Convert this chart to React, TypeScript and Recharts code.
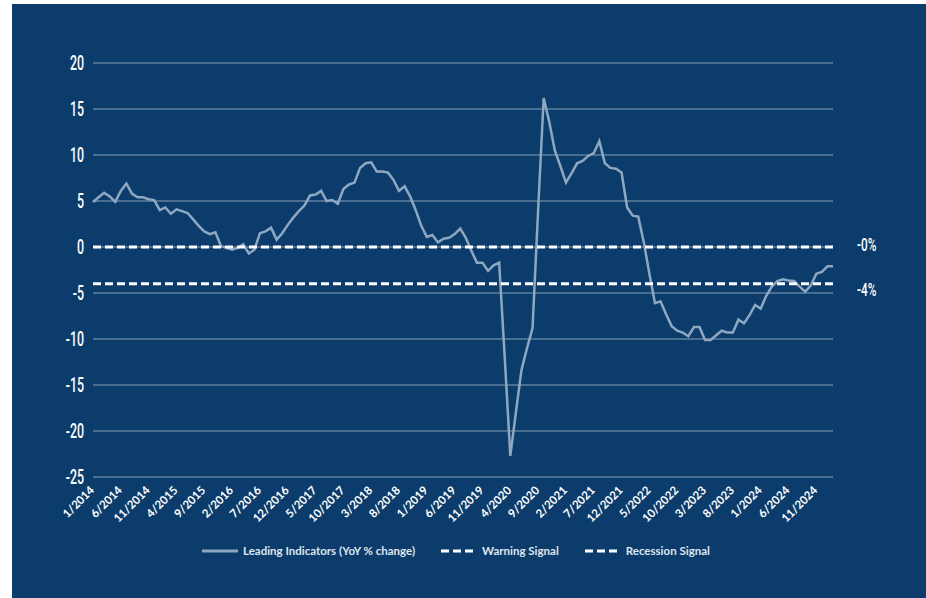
import React from "react";
import {
  LineChart,
  Line,
  XAxis,
  YAxis,
  CartesianGrid,
  ReferenceLine,
  Legend,
} from "recharts";

// monthly, 1/2014 .. 2/2025
const START_YEAR = 2014;
const leadingIndicators = [
  4.9, 5.4, 5.9, 5.5, 4.9, 6.1, 6.9, 5.8, 5.4, 5.4,
  5.2, 5.1, 4.0, 4.3, 3.6, 4.1, 3.9, 3.7, 3.0, 2.3,
  1.7, 1.4, 1.6, 0.1, -0.1, -0.3, -0.1, 0.3, -0.7, -0.3,
  1.5, 1.7, 2.1, 0.8, 1.5, 2.4, 3.2, 3.9, 4.5, 5.6,
  5.7, 6.1, 5.0, 5.1, 4.7, 6.3, 6.8, 7.0, 8.6, 9.1,
  9.2, 8.2, 8.2, 8.1, 7.3, 6.1, 6.6, 5.5, 4.0, 2.3,
  1.1, 1.3, 0.5, 0.9, 1.0, 1.4, 2.0, 1.0, -0.4, -1.7,
  -1.7, -2.6, -2.0, -1.7, -12.0, -22.7, -18.0, -13.4, -11.0, -8.8,
  4.0, 16.2, 13.6, 10.5, 8.8, 7.0, 8.0, 9.1, 9.35, 9.9,
  10.2, 11.5, 9.1, 8.6, 8.5, 8.1, 4.3, 3.4, 3.3, 0.5,
  -2.9, -6.1, -5.9, -7.3, -8.6, -9.1, -9.3, -9.7, -8.7, -8.7,
  -10.1, -10.1, -9.6, -9.1, -9.3, -9.3, -7.9, -8.3, -7.4, -6.3,
  -6.7, -5.3, -4.3, -3.7, -3.5, -3.65, -3.7, -4.3, -4.85, -4.2,
  -2.9, -2.7, -2.1, -2.1,
];
const WARNING_LEVEL = 0;
const RECESSION_LEVEL = -4;
const yTicks = [-25, -20, -15, -10, -5, 0, 5, 10, 15, 20];
const sideLabels = [
  { level: WARNING_LEVEL, text: "-0%", dy: -3 },
  { level: RECESSION_LEVEL, text: "-4%", dy: 5 },
];
const seriesNames = {
  lead: "Leading Indicators (YoY % change)",
  warning: "Warning Signal",
  recession: "Recession Signal",
};

const months = leadingIndicators.map(
  (_, i) => `${(i % 12) + 1}/${START_YEAR + Math.floor(i / 12)}`
);
const data = months.map((month, i) => ({
  month,
  lead: leadingIndicators[i],
  warning: WARNING_LEVEL,
  recession: RECESSION_LEVEL,
}));

const BG = "#0b3c6b";
const LINE = "#8ea8c1";
const GRID = "#8aa0b8";
const NARROW = "Roboto, sans-serif";
const LABEL = "Lato, 'Open Sans', sans-serif";

function YTick({ x, y, payload }: any) {
  return (
    <g transform={`translate(${x - 1},${y})`}>
      <text
        textAnchor="end"
        dy="0.36em"
        transform="scale(0.62,1)"
        fill="#ffffff"
        fontFamily={NARROW}
        fontWeight={500}
        fontSize={20}
      >
        {payload.value}
      </text>
    </g>
  );
}

function XTick({ x, y, payload }: any) {
  return (
    <g transform={`translate(${x + 2},${y + 6})`}>
      <text
        textAnchor="end"
        transform="rotate(-45)"
        fill="#ffffff"
        fontFamily={LABEL}
        fontWeight={700}
        fontSize={11.5}
      >
        {payload.value}
      </text>
    </g>
  );
}

function SideLabel({ viewBox, text, dy }: any) {
  return (
    <g transform={`translate(${viewBox.x + viewBox.width + 24},${viewBox.y + dy})`}>
      <text
        dy="0.36em"
        transform="scale(0.62,1)"
        fill="#ffffff"
        fontFamily={NARROW}
        fontWeight={500}
        fontSize={19}
      >
        {text}
      </text>
    </g>
  );
}

function LegendBox() {
  const item = (key: string, dashed: boolean, gap: number) => (
    <div key={key} style={{ display: "flex", alignItems: "center", marginRight: gap }}>
      <svg width={36} height={6} style={{ marginRight: 5 }}>
        <line
          x1={0}
          x2={36}
          y1={3}
          y2={3}
          stroke={dashed ? "#ffffff" : LINE}
          strokeWidth={3}
          strokeDasharray={dashed ? "8 4" : undefined}
        />
      </svg>
      <span>{(seriesNames as any)[key]}</span>
    </div>
  );
  return (
    <div
      style={{
        display: "flex",
        alignItems: "center",
        fontFamily: LABEL,
        fontWeight: 700,
        fontSize: 11.5,
        color: "#dfe6ee",
        whiteSpace: "nowrap",
      }}
    >
      {item("lead", false, 26)}
      {item("warning", true, 26)}
      {item("recession", true, 0)}
    </div>
  );
}

export default function App() {
  return (
    <div style={{ position: "absolute", left: 0, top: 0, width: 926, height: 598, background: "#ffffff" }}>
      <div style={{ position: "absolute", left: 12, top: 4, width: 914, height: 594, background: BG }}>
        <LineChart
          width={914}
          height={594}
          data={data}
          margin={{ top: 59, right: 93, bottom: 61, left: 0 }}
        >
          <CartesianGrid stroke={GRID} strokeWidth={1} vertical={false} />
          <XAxis
            dataKey="month"
            interval={4}
            axisLine={false}
            tickLine={false}
            height={60}
            tick={<XTick />}
          />
          <YAxis
            domain={[-25, 20]}
            ticks={yTicks}
            axisLine={false}
            tickLine={false}
            width={81}
            tick={<YTick />}
          />
          <Line
            type="linear"
            dataKey="lead"
            name={seriesNames.lead}
            stroke={LINE}
            strokeWidth={2.5}
            dot={false}
            isAnimationActive={false}
          />
          <Line
            type="linear"
            dataKey="warning"
            name={seriesNames.warning}
            stroke="#ffffff"
            strokeWidth={3}
            strokeDasharray="8 4"
            dot={false}
            isAnimationActive={false}
          />
          <Line
            type="linear"
            dataKey="recession"
            name={seriesNames.recession}
            stroke="#ffffff"
            strokeWidth={3}
            strokeDasharray="8 4"
            dot={false}
            isAnimationActive={false}
          />
          {sideLabels.map((s) => (
            <ReferenceLine
              key={s.text}
              y={s.level}
              stroke="none"
              label={<SideLabel text={s.text} dy={s.dy} />}
            />
          ))}
          <Legend
            layout="horizontal"
            verticalAlign="middle"
            align="center"
            content={<LegendBox />}
            wrapperStyle={{ top: 540, left: 190, width: 600, height: 14 }}
          />
        </LineChart>
      </div>
    </div>
  );
}
